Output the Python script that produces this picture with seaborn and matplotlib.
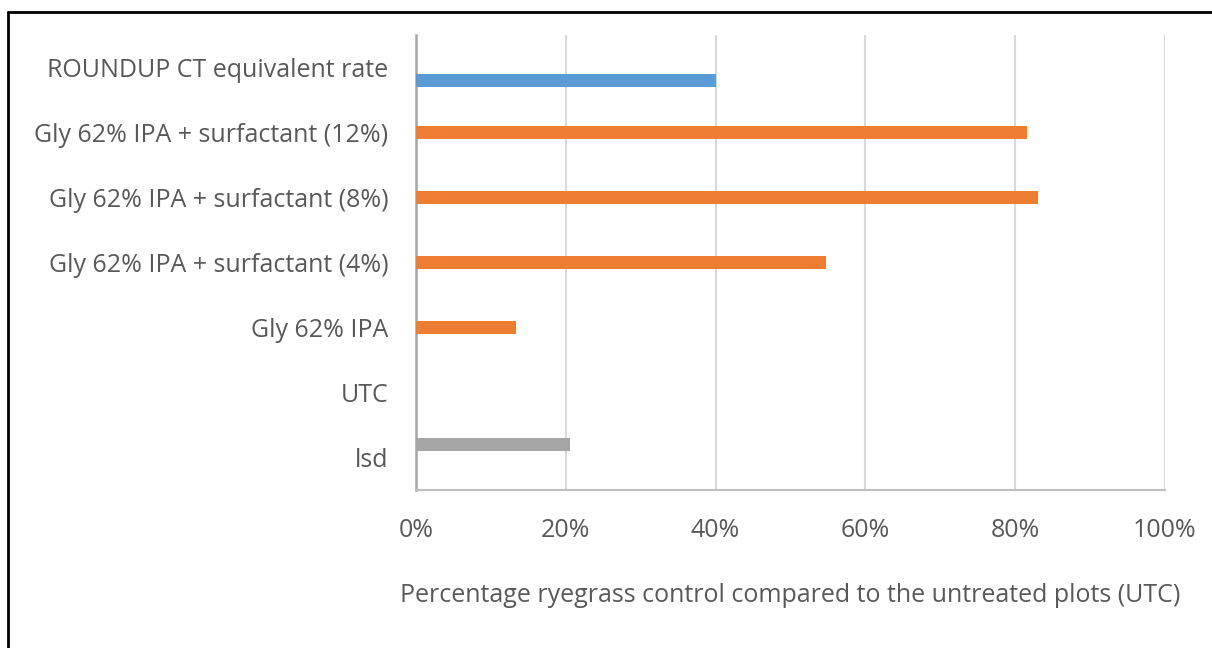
import matplotlib
matplotlib.use('Agg')
import matplotlib.pyplot as plt
from matplotlib.lines import Line2D
from matplotlib.ticker import PercentFormatter
import seaborn as sns
import pandas as pd

# categories, top to bottom
treatments = ['ROUNDUP CT equivalent rate',
              'Gly 62% IPA + surfactant (12%)',
              'Gly 62% IPA + surfactant (8%)',
              'Gly 62% IPA + surfactant (4%)',
              'Gly 62% IPA',
              'UTC',
              'lsd']
# which series each bar belongs to
series = ['Roundup', 'Trial', 'Trial', 'Trial', 'Trial', 'Trial', 'LSD']
control = [0.40, 0.816, 0.831, 0.547, 0.133, 0.0, 0.205]

series_order = ['LSD', 'Trial', 'Roundup']
series_colors = ['#a5a5a5', '#ed7d31', '#5b9bd5']
xticks = [0, 0.2, 0.4, 0.6, 0.8, 1.0]

df = pd.DataFrame({'treatment': treatments, 'series': series, 'control': control})

sns.set_style('white')
plt.rcParams['font.family'] = ['Open Sans', 'DejaVu Sans']

fig = plt.figure(figsize=(12.12, 6.48), dpi=100)
ax = fig.add_axes([0.3432, 0.2438, 0.6180, 0.7022])

sns.barplot(data=df, y='treatment', x='control', hue='series',
            order=treatments, hue_order=series_order, palette=series_colors,
            width=0.6, dodge=True, orient='h', legend=False, ax=ax,
            saturation=1, linewidth=0, zorder=3)

ax.set_xlim(0, 1)
ax.set_ylim(6.5, -0.5)
ax.set_xticks(xticks)
ax.xaxis.set_major_formatter(PercentFormatter(1.0, decimals=0))
ax.grid(axis='x', color='#d9d9d9', linewidth=1.5, zorder=0)
ax.set_axisbelow(True)

for s in ['top', 'right']:
    ax.spines[s].set_visible(False)
ax.spines['left'].set_color('#a6a6a6')
ax.spines['left'].set_linewidth(1.8)
ax.spines['bottom'].set_color('#bfbfbf')
ax.spines['bottom'].set_linewidth(1.5)

ax.tick_params(axis='both', length=0, colors='#595959', labelsize=18)
ax.tick_params(axis='y', pad=20)
ax.tick_params(axis='x', pad=20)
ax.set_ylabel('')
ax.set_xlabel('Percentage ryegrass control compared to the untreated plots (UTC)',
              color='#595959', fontsize=18, labelpad=29)

# frame lines at top and left of the image
fig.add_artist(Line2D([0.0066, 1.0], [1 - 12 / 648, 1 - 12 / 648],
                      transform=fig.transFigure, color='black', linewidth=2))
fig.add_artist(Line2D([8 / 1212, 8 / 1212], [0, 1 - 12 / 648],
                      transform=fig.transFigure, color='black', linewidth=2))

fig.savefig('out.png', dpi=100)
